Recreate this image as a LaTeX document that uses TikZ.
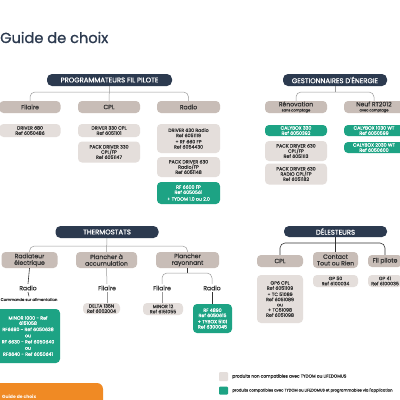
\documentclass[tikz,border=0pt]{standalone}
\usepackage{fontspec}
\setmainfont{Poppins}
\newfontfamily\medfont{Poppins}[FakeBold=0.9]
\usepackage{tikz}
\usetikzlibrary{positioning, calc, backgrounds}

\definecolor{navy}{HTML}{2C3A4F}
\definecolor{taupe}{HTML}{C8BDB7}
\definecolor{pale}{HTML}{E4DEDB}
\definecolor{grn}{HTML}{1DA384}
\definecolor{orng}{HTML}{F08A24}
\definecolor{ink}{HTML}{333333}
\definecolor{wire}{HTML}{9A9A9A}

\begin{document}
\begin{tikzpicture}[
  x=1pt, y=-1pt,
  every node/.style={align=center, inner sep=0pt, rounded corners=4pt, text=ink, font=\medfont\fontsize{4.7}{5.2}\selectfont},
  hd/.style={fill=navy, text=white, minimum height=12pt, rounded corners=5pt, font=\medfont\fontsize{6.9}{8}\selectfont},
  br/.style={fill=taupe, minimum height=12pt, font=\medfont\fontsize{6.1}{6.6}\selectfont},
  it/.style={fill=pale},
  ok/.style={fill=grn, text=white},
  lbl/.style={inner sep=1.5pt, font=\medfont\fontsize{6.1}{7}\selectfont},
  small/.style={font=\medfont\fontsize{3.9}{4.5}\selectfont},
  conn/.style={draw=wire, line width=0.5pt, rounded corners=5pt},
  dark/.style={draw=ink, line width=0.6pt, rounded corners=5pt},
]
\useasboundingbox (0,0) rectangle (400,400);
\clip (0,0) rectangle (400,400);
\fill[white] (0,0) rectangle (400,400);

% title
\node[anchor=base west, text=navy, font=\medfont\fontsize{14.6}{18}\selectfont] (title) at (0,43) {Guide de choix};

% Programmateurs fil pilote
\node[hd, minimum width=125pt] (prog) at (109.5,80) {PROGRAMMATEURS FIL PILOTE};
\node[br, minimum width=61pt] (fil) at (30,107) {Filaire};
\node[br, minimum width=62pt] (cpl) at (109,107) {CPL};
\node[br, minimum width=63pt] (radio) at (188.5,107) {Radio};
\node[it, minimum width=61pt, minimum height=13pt] (fil1) at (30,130.5) {DRIVER 680\\Ref 6050486};
\node[it, minimum width=62pt, minimum height=13pt] (cpl1) at (109,130.5) {DRIVER 330 CPL\\Ref 6051101};
\node[it, minimum width=62pt, minimum height=21pt] (cpl2) at (109,152) {PACK DRIVER 330\\CPL/FP\\Ref 6051147};
\node[it, minimum width=63pt, minimum height=29pt] (rad1) at (188.5,138.5) {DRIVER 630 Radio\\Ref 6051119\\[1pt]+ RF 660 FP\\Ref 6054430};
\node[it, minimum width=63pt, minimum height=20pt] (rad2) at (188.5,167) {PACK DRIVER 630\\Radio/FP\\Ref 6051148};
\node[ok, minimum width=63pt, minimum height=22pt] (rad3) at (188.5,193) {RF 6600 FP\\Ref 6050561\\[1.5pt]+ TYDOM 1.0 ou 2.0};

\coordinate (pbar) at (0,92);
\draw[conn] (prog.south) -- (cpl.north);
\draw[conn] (fil.north) |- (pbar -| radio.north) -- (radio.north);

% Gestionnaires d'energie
\node[hd, minimum width=104pt] (gest) at (335,80) {GESTIONNAIRES D'ÉNERGIE};
\node[br, minimum width=62pt] (reno) at (296,107) {Rénovation\\[-1.5pt]{\fontsize{3.6}{4}\selectfont sans comptage}};
\node[br, minimum width=60pt] (neuf) at (374,107) {Neuf RT2012\\[-1.5pt]{\fontsize{3.6}{4}\selectfont avec comptage}};
\node[ok, minimum width=62pt, minimum height=11pt] (reno1) at (296,130.5) {CALYBOX 330\\Ref 6050392};
\node[it, minimum width=62pt, minimum height=20pt] (reno2) at (296,151) {PACK DRIVER 630\\CPL/FP\\Ref 6051113};
\node[it, minimum width=62pt, minimum height=21pt] (reno3) at (296,174) {PACK DRIVER 630\\RADIO CPL/FP\\Ref 6051182};
\node[ok, minimum width=60pt, minimum height=11pt] (neuf1) at (374,130.5) {CALYBOX 1030 WT\\Ref 6050599};
\node[ok, minimum width=60pt, minimum height=11pt] (neuf2) at (374,147.5) {CALYBOX 2030 WT\\Ref 6050600};

\coordinate (gbar) at (0,92);
\draw[conn] (reno.north) |- (gbar -| neuf.north) -- (neuf.north);
\draw[conn] (gest.south) -- (gest.south |- gbar);

% Thermostats
\node[hd, minimum width=103pt] (thermo) at (107,232) {THERMOSTATS};
\node[br, minimum width=56pt, minimum height=16pt] (rad) at (29.5,260) {Radiateur\\électrique};
\node[br, minimum width=61pt, minimum height=16pt] (accu) at (106.5,260) {Plancher à\\accumulation};
\node[br, minimum width=63pt, minimum height=16pt] (ray) at (187.5,260) {Plancher\\rayonnant};
\node[lbl] (radR) at (28,288) {Radio};
\node[lbl, small] (cmd) at (29,299.5) {Commande sur alimentation};
\node[lbl] (accF) at (107,288) {Filaire};
\node[lbl] (rayF) at (162,288) {Filaire};
\node[lbl] (rayR) at (212,288) {Radio};
\node[ok, minimum width=64pt, minimum height=54pt] (radok) at (28,336) {MINOR 1000 - Ref\\6151058\\[1pt]RF6680 - Ref 6050638\\[1pt]ou\\[1pt]RF 6630 - Ref 6050640\\[1pt]ou\\[1pt]RF6640 - Ref 6050641};
\node[it, minimum width=37pt, minimum height=11pt] (accD) at (101.5,308.5) {DELTA 135N\\Ref 6002004};
\node[it, minimum width=40pt, minimum height=12pt] (rayF1) at (163,309) {MINOR 12\\Ref 6151055};
\node[ok, minimum width=39pt, minimum height=29pt] (rayR1) at (212.5,318.5) {RF 4890\\Ref 6050615\\[1pt]+ TYBOX 5101\\Ref 6300045};

\coordinate (tbar) at (0,246);
\coordinate (rsplit) at (187.5,273);
\draw[conn] (thermo.south) -- (accu.north);
\draw[conn] (rad.north) |- (tbar -| ray.north) -- (ray.north);
\draw[dark] (rad.south) -- (radR.north);
\draw[dark] (radR.south) -- (cmd.north);
\draw[conn] (accu.south) -- (accF.north);
\draw[conn] (accF.south) -- (accF.south |- accD.north);
\draw[dark] (ray.south) -- (rsplit);
\draw[conn] (rayF.north) |- (rsplit) -| (rayR.north);
\draw[conn] (rayF.south) -- (rayF.south |- rayF1.north);
\draw[dark] (rayR.south) -- (rayR.south |- rayR1.north);

% Delesteurs
\node[hd, minimum width=103pt, minimum height=11pt] (deles) at (335.5,231.5) {DÉLESTEURS};
\node[br, minimum width=46pt] (dcpl) at (280,261) {CPL};
\node[br, minimum width=45pt, minimum height=16pt] (dtor) at (335.5,260) {Contact\\Tout ou Rien};
\node[br, minimum width=34pt] (dfp) at (385,261) {Fil pilote};
\node[it, minimum width=46pt, minimum height=48pt] (dcpl1) at (280,299) {GP6 CPL\\Ref 6051109\\[1pt]+ TC 51089\\Ref 6051089\\ou\\+ TC51098\\Ref 6051098};
\node[it, minimum width=45pt, minimum height=12pt] (dtor1) at (335.5,281) {GP 50\\Ref 6100034};
\node[it, minimum width=34pt, minimum height=12pt] (dfp1) at (385,281) {GP 41\\Ref 6100035};

\coordinate (dbar) at (0,243);
\draw[dark] (deles.south) -- (dtor.north);
\draw[dark] (dcpl.north) |- (dbar -| dfp.north) -- (dfp.north);

% legend
\node[fill=pale, rounded corners=1pt, minimum width=9pt, minimum height=9pt] (lgno) at (223.5,376.5) {};
\node[anchor=west, font=\medfont\fontsize{4.3}{5}\selectfont, right=4pt of lgno] (lgnotxt) {produits non compatibles avec TYDOM ou LIFEDOMUS};
\node[fill=grn, rounded corners=1pt, minimum width=9pt, minimum height=8pt] (lgok) at (223.5,390.5) {};
\node[anchor=west, font=\medfont\fontsize{3.8}{5}\selectfont, right=4pt of lgok] (lgoktxt) {produits compatibles avec TYDOM ou LIFEDOMUS et programmables via l'application};

% footer tab
\node[fill=orng, rounded corners=6pt, minimum width=123pt, minimum height=37pt] (foot) at (41.5,401.5) {};
\node[anchor=west, text=white, font=\bfseries\fontsize{4.5}{5}\selectfont] (foottxt) at (2,397) {Guide de choix};

\end{tikzpicture}
\end{document}
